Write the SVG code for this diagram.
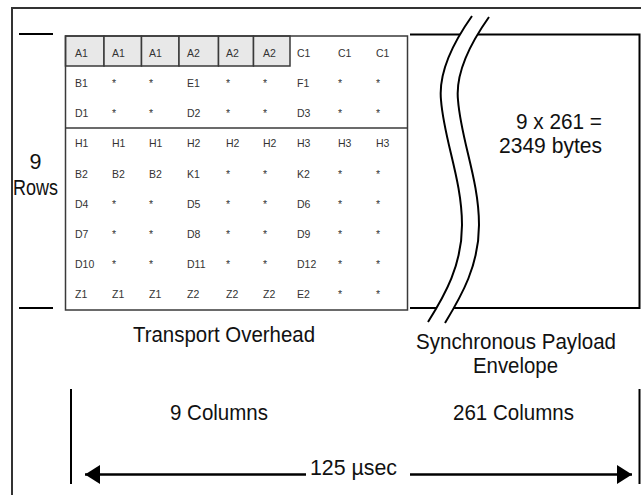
<svg xmlns="http://www.w3.org/2000/svg" width="641" height="495" viewBox="0 0 641 495">
<style>
.frame{fill:none;stroke:#333;stroke-width:2}
.ln{fill:none;stroke:#000;stroke-width:2}
.grid{fill:none;stroke:#3a3a3a;stroke-width:1.5}
.shade{fill:#e8e8e8;stroke:#3a3a3a;stroke-width:1.5}
.c{font-family:"Liberation Sans",Arial,sans-serif;font-size:10.5px;fill:#333}
.big{font-family:"Liberation Sans",Arial,sans-serif;font-size:21.5px;fill:#111}
.mid{text-anchor:middle}
</style>
<defs>
<marker id="ah" viewBox="0 0 15 19" refX="15" refY="9.5" markerWidth="15" markerHeight="19" markerUnits="userSpaceOnUse" orient="auto-start-reverse">
<path d="M0,0 L15,9.5 L0,19 Z" fill="#000"/>
</marker>
</defs>
<rect width="641" height="495" fill="#fff"/>
<path class="frame" d="M12,495 V8 H641"/>

<g id="rows-label">
<line class="ln" x1="19" y1="34" x2="53" y2="34"/>
<line class="ln" x1="19" y1="308" x2="53" y2="308"/>
<text class="big mid" x="35.5" y="169">9</text>
<text class="big" x="13" y="195" textLength="45" lengthAdjust="spacingAndGlyphs">Rows</text>
</g>

<g id="transport-overhead">
<rect class="shade" x="65.5" y="36" width="38.5" height="30"/>
<rect class="shade" x="104" y="36" width="37.5" height="30"/>
<rect class="shade" x="141.5" y="36" width="37.5" height="30"/>
<rect class="shade" x="179" y="36" width="39.5" height="30"/>
<rect class="shade" x="218.5" y="36" width="35" height="30"/>
<rect class="shade" x="253.5" y="36" width="36.5" height="30"/>
<rect class="grid" x="65.5" y="36" width="342" height="274"/>
<line class="grid" x1="65.5" y1="128" x2="407.5" y2="128"/>
<g class="c">
<text x="75" y="57">A1</text><text x="112" y="57">A1</text><text x="149" y="57">A1</text><text x="187" y="57">A2</text><text x="226" y="57">A2</text><text x="263" y="57">A2</text><text x="297" y="57">C1</text><text x="338" y="57">C1</text><text x="376" y="57">C1</text>
<text x="75" y="87">B1</text><text x="112" y="87">*</text><text x="149" y="87">*</text><text x="187" y="87">E1</text><text x="226" y="87">*</text><text x="263" y="87">*</text><text x="297" y="87">F1</text><text x="338" y="87">*</text><text x="376" y="87">*</text>
<text x="75" y="117">D1</text><text x="112" y="117">*</text><text x="149" y="117">*</text><text x="187" y="117">D2</text><text x="226" y="117">*</text><text x="263" y="117">*</text><text x="297" y="117">D3</text><text x="338" y="117">*</text><text x="376" y="117">*</text>
<text x="75" y="147">H1</text><text x="112" y="147">H1</text><text x="149" y="147">H1</text><text x="187" y="147">H2</text><text x="226" y="147">H2</text><text x="263" y="147">H2</text><text x="297" y="147">H3</text><text x="338" y="147">H3</text><text x="376" y="147">H3</text>
<text x="75" y="177.5">B2</text><text x="112" y="177.5">B2</text><text x="149" y="177.5">B2</text><text x="187" y="177.5">K1</text><text x="226" y="177.5">*</text><text x="263" y="177.5">*</text><text x="297" y="177.5">K2</text><text x="338" y="177.5">*</text><text x="376" y="177.5">*</text>
<text x="75" y="207.5">D4</text><text x="112" y="207.5">*</text><text x="149" y="207.5">*</text><text x="187" y="207.5">D5</text><text x="226" y="207.5">*</text><text x="263" y="207.5">*</text><text x="297" y="207.5">D6</text><text x="338" y="207.5">*</text><text x="376" y="207.5">*</text>
<text x="75" y="238">D7</text><text x="112" y="238">*</text><text x="149" y="238">*</text><text x="187" y="238">D8</text><text x="226" y="238">*</text><text x="263" y="238">*</text><text x="297" y="238">D9</text><text x="338" y="238">*</text><text x="376" y="238">*</text>
<text x="75" y="268">D10</text><text x="112" y="268">*</text><text x="149" y="268">*</text><text x="187" y="268">D11</text><text x="226" y="268">*</text><text x="263" y="268">*</text><text x="297" y="268">D12</text><text x="338" y="268">*</text><text x="376" y="268">*</text>
<text x="75" y="298">Z1</text><text x="112" y="298">Z1</text><text x="149" y="298">Z1</text><text x="187" y="298">Z2</text><text x="226" y="298">Z2</text><text x="263" y="298">Z2</text><text x="297" y="298">E2</text><text x="338" y="298">*</text><text x="376" y="298">*</text>
</g>
<text class="big" x="133" y="342" textLength="182" lengthAdjust="spacingAndGlyphs">Transport Overhead</text>
</g>

<g id="payload-envelope">
<path class="ln" d="M410,34.5 H639.5 V308 H410"/>
<path d="M472,16 C455,40 438,70 441,100 C444,140 462,180 462,225 C462,265 445,295 428,322 L445,323 C462,295 479,265 479,225 C479,180 461,140 458,100 C455,71 472,41 489,17 Z" fill="#fff"/>
<path class="ln" d="M472,16 C455,40 438,70 441,100 C444,140 462,180 462,225 C462,265 445,295 428,322"/>
<path class="ln" d="M489,17 C472,41 455,71 458,100 C461,140 479,180 479,225 C479,265 462,295 445,323"/>
<text class="big" x="516" y="129" textLength="86" lengthAdjust="spacingAndGlyphs">9 x 261 =</text>
<text class="big" x="499" y="153" textLength="103" lengthAdjust="spacingAndGlyphs">2349 bytes</text>
<text class="big" x="416" y="349" textLength="200" lengthAdjust="spacingAndGlyphs">Synchronous Payload</text>
<text class="big" x="473" y="373" textLength="85" lengthAdjust="spacingAndGlyphs">Envelope</text>
</g>

<g id="columns">
<text class="big" x="170" y="420" textLength="98" lengthAdjust="spacingAndGlyphs">9 Columns</text>
<text class="big" x="453" y="420" textLength="121" lengthAdjust="spacingAndGlyphs">261 Columns</text>
<text class="big" x="310" y="475" textLength="87" lengthAdjust="spacingAndGlyphs">125 µsec</text>
</g>

<g id="connectors">
<line class="ln" x1="71" y1="389" x2="71" y2="484"/>
<line class="ln" x1="639.5" y1="389" x2="639.5" y2="484"/>
<line x1="306" y1="474.5" x2="85" y2="474.5" stroke="#000" stroke-width="2.5" marker-end="url(#ah)"/>
<line x1="410" y1="474.5" x2="632" y2="474.5" stroke="#000" stroke-width="2.5" marker-end="url(#ah)"/>
</g>
</svg>
